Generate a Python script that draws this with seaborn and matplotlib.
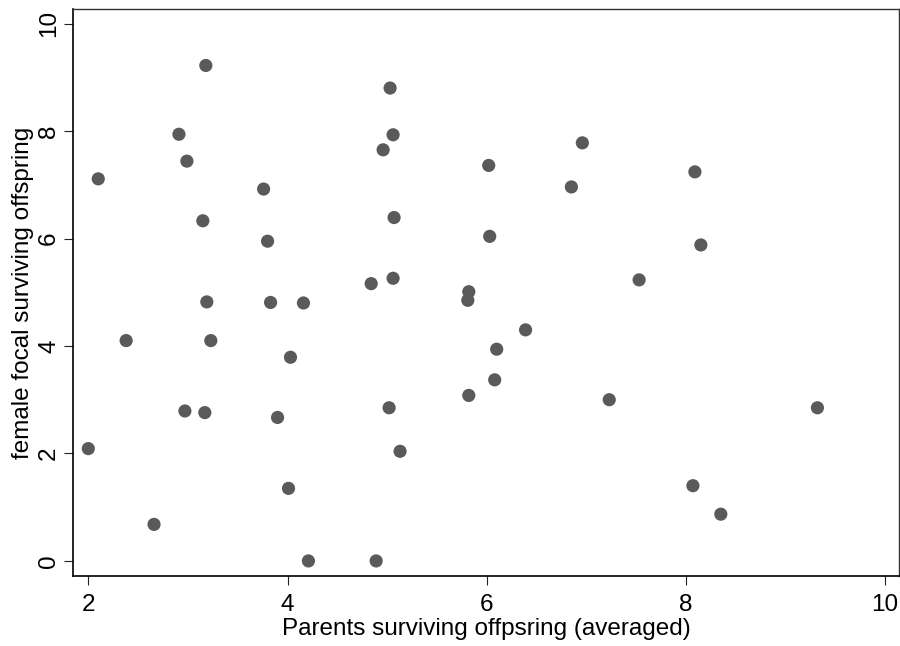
import matplotlib
matplotlib.use("Agg")
import matplotlib.pyplot as plt
import seaborn as sns
import pandas as pd

parents_avg = [2.00, 2.10, 2.38, 2.66, 2.91, 2.97, 2.99, 3.15, 3.18, 3.19, 3.17, 3.23,
               3.76, 3.80, 3.83, 3.90, 4.01, 4.03, 4.16, 4.21, 4.84, 4.89, 4.96, 5.03,
               5.02, 5.06, 5.07, 5.06, 5.13, 5.81, 5.82, 5.82, 6.02, 6.03, 6.08, 6.10,
               6.39, 6.85, 6.96, 7.23, 7.53, 8.07, 8.09, 8.15, 8.35, 9.32]
female_focal = [2.09, 7.11, 4.10, 0.68, 7.94, 2.79, 7.44, 6.33, 9.22, 4.82, 2.76, 4.10,
                6.92, 5.95, 4.81, 2.67, 1.35, 3.79, 4.80, 0.00, 5.16, 0.00, 7.65, 8.80,
                2.85, 7.93, 6.39, 5.26, 2.04, 4.85, 5.01, 3.08, 7.36, 6.04, 3.37, 3.94,
                4.30, 6.96, 7.78, 3.00, 5.23, 1.40, 7.24, 5.88, 0.87, 2.85]

x_ticks = [2, 4, 6, 8, 10]
y_ticks = [0, 2, 4, 6, 8, 10]

df = pd.DataFrame({"x": parents_avg, "y": female_focal})

sns.set_theme(style="white")
plt.rcParams['font.family'] = ['Liberation Sans', 'DejaVu Sans']

fig = plt.figure(figsize=(9, 6.46), dpi=100)
ax = fig.add_axes([0.0815, 0.1084, 0.9175, 0.8776])

sns.scatterplot(data=df, x="x", y="y", ax=ax, color="#5a5a5a", s=90,
                edgecolor="none", linewidth=0)

fs = 17.5
ax.set_xlim(1.85, 10.14)
ax.set_ylim(-0.28, 10.27)
ax.set_xticks(x_ticks)
ax.set_yticks(y_ticks)
ax.set_xticklabels([str(v) for v in x_ticks], fontsize=fs, color="black")
ax.set_yticklabels([str(v) for v in y_ticks], fontsize=fs, rotation=90,
                   va="center", color="black")
ax.tick_params(axis="both", direction="out", length=6.5, width=0.8,
               color="#222222", bottom=True, left=True)
ax.tick_params(axis="x", pad=6.5)
ax.tick_params(axis="y", pad=3)
ax.set_xlabel("Parents surviving offpsring (averaged)", fontsize=fs,
              color="black", labelpad=1.5)
ax.set_ylabel("female focal surviving offspring", fontsize=fs,
              color="black", labelpad=3)

for side in ["left", "bottom"]:
    ax.spines[side].set_color("black")
    ax.spines[side].set_linewidth(1.2)
for side in ["top", "right"]:
    ax.spines[side].set_color("#333333")
    ax.spines[side].set_linewidth(1.0)

fig.savefig("out.png", dpi=100)
